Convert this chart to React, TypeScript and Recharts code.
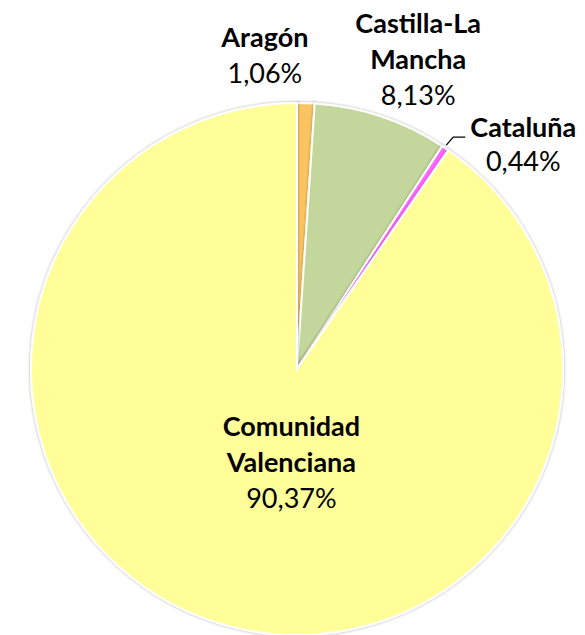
import { Cell, Pie, PieChart } from "recharts";

const REGIONS = ["Aragón", "Castilla-La Mancha", "Cataluña", "Comunidad Valenciana"];
const SHARES = [1.06, 8.13, 0.44, 90.37];
const SLICE_COLORS = ["#FAC461", "#C3D69B", "#FF66FF", "#FFFE99"];

const data = REGIONS.map((name, i) => ({ name, value: SHARES[i] }));

const RADIAN = Math.PI / 180;

// where each label block sits, relative to the slice's mid point on the rim
const LABEL_LAYOUT: Record<string, { r: number; dx: number; dy: number; gap: number; leader?: boolean }> = {
  "Aragón": { r: 266, dx: -41, dy: -56, gap: 36 },
  "Castilla-La Mancha": { r: 266, dx: 37, dy: -84, gap: 36 },
  "Cataluña": { r: 266, dx: 78, dy: -11, gap: 34, leader: true },
  "Comunidad Valenciana": { r: 106, dx: 26, dy: -34, gap: 36 },
};

const formatShare = (v: number) => `${v.toFixed(2).replace(".", ",")}%`;

function renderLabel(props: any) {
  const { cx, cy, midAngle, name, value } = props;
  const layout = LABEL_LAYOUT[name];
  const ax = cx + layout.r * Math.cos(-midAngle * RADIAN);
  const ay = cy + layout.r * Math.sin(-midAngle * RADIAN);
  const x = ax + layout.dx;
  const y = ay + layout.dy;
  const lines = String(name).split(" ");

  return (
    <g>
      {layout.leader && (
        <polyline
          points={`${ax + 1},${ay - 3} ${ax + 8},${ay - 11} ${ax + 20},${ay - 11}`}
          fill="none"
          stroke="#000"
          strokeWidth={1.3}
        />
      )}
      <text textAnchor="middle" fontFamily="Lato, 'Open Sans', sans-serif" fontSize={27} fill="#000">
        {lines.map((line, i) => (
          <tspan key={line} x={x} y={y + i * layout.gap} fontWeight={700}>
            {line}
          </tspan>
        ))}
        <tspan x={x} y={y + lines.length * layout.gap} fontWeight={400}>
          {formatShare(value)}
        </tspan>
      </text>
    </g>
  );
}

export default function App() {
  return (
    <div style={{ position: "absolute", left: 0, top: 0, background: "#fff" }}>
      <PieChart width={585} height={635}>
        <defs>
          <filter id="pieShadow" x="-10%" y="-10%" width="120%" height="120%">
            <feDropShadow dx="0" dy="0" stdDeviation="1.6" floodColor="#000" floodOpacity="0.35" />
          </filter>
        </defs>
        <Pie
          data={data}
          dataKey="value"
          nameKey="name"
          cx={292}
          cy={364}
          outerRadius={266}
          startAngle={90}
          endAngle={-270}
          stroke="#fff"
          strokeWidth={2}
          label={renderLabel}
          labelLine={false}
          isAnimationActive={false}
        >
          {data.map((entry, index) => (
            <Cell key={entry.name} fill={SLICE_COLORS[index]} filter="url(#pieShadow)" />
          ))}
        </Pie>
      </PieChart>
    </div>
  );
}
